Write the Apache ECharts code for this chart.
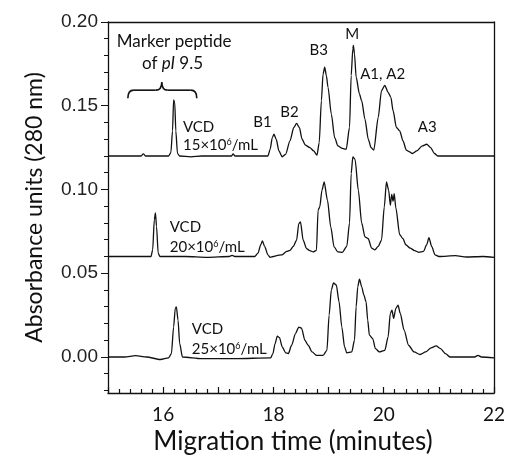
<!DOCTYPE html>
<html>
<head>
<meta charset="utf-8">
<script src="https://cdn.jsdelivr.net/npm/echarts@6/dist/echarts.min.js"></script>
<style>html,body{margin:0;padding:0;background:#fff}#c{width:511px;height:461px}</style>
</head>
<body>
<div id="c"></div>
<script>
// Migration time (min) and absorbance (AU) for each trace
const timeTop = [15.00,15.60,15.64,15.68,16.10,16.14,16.17,16.19,16.21,16.23,16.26,16.30,16.50,16.70,17.24,17.27,17.30,17.90,17.94,17.98,18.01,18.05,18.10,18.16,18.22,18.30,18.37,18.42,18.47,18.52,18.58,18.66,18.73,18.79,18.83,18.87,18.90,18.93,18.96,18.99,19.05,19.11,19.17,19.25,19.32,19.38,19.41,19.44,19.45,19.47,19.50,19.56,19.60,19.66,19.72,19.77,19.82,19.90,19.96,20.02,20.08,20.13,20.17,20.23,20.29,20.35,20.41,20.47,20.52,20.60,20.70,20.78,20.85,20.92,20.98,21.50,22.00];
const absTop  = [0.120,0.120,0.1213,0.120,0.120,0.122,0.135,0.1535,0.152,0.135,0.1215,0.120,0.1195,0.120,0.120,0.1213,0.120,0.120,0.124,0.131,0.133,0.130,0.123,0.1195,0.121,0.129,0.137,0.1395,0.137,0.130,0.1265,0.125,0.123,0.1205,0.128,0.153,0.169,0.173,0.168,0.161,0.145,0.131,0.126,0.1245,0.124,0.137,0.168,0.184,0.186,0.181,0.167,0.157,0.153,0.142,0.130,0.125,0.1235,0.143,0.159,0.1622,0.158,0.155,0.147,0.137,0.135,0.129,0.1235,0.1225,0.1215,0.123,0.126,0.127,0.125,0.1215,0.120,0.120,0.120];

const timeMid = [15.00,15.78,15.81,15.84,15.86,15.88,15.91,15.94,16.40,16.80,17.20,17.25,17.30,17.66,17.72,17.77,17.80,17.84,17.90,17.94,18.00,18.06,18.15,18.24,18.30,18.36,18.42,18.46,18.49,18.54,18.60,18.66,18.72,18.78,18.81,18.84,18.88,18.92,18.98,19.04,19.10,19.17,19.25,19.33,19.38,19.41,19.44,19.48,19.54,19.60,19.66,19.72,19.78,19.84,19.90,19.96,20.01,20.05,20.09,20.12,20.145,20.17,20.19,20.22,20.29,20.35,20.40,20.48,20.56,20.64,20.72,20.78,20.82,20.87,20.93,21.00,21.30,21.50,21.80,22.00];
const absMid  = [0.060,0.060,0.064,0.082,0.086,0.078,0.062,0.060,0.060,0.0595,0.060,0.0607,0.060,0.060,0.062,0.067,0.0693,0.066,0.061,0.0595,0.060,0.0605,0.061,0.063,0.0637,0.066,0.0697,0.0796,0.0806,0.0697,0.0647,0.0635,0.0627,0.0637,0.0876,0.0896,0.0995,0.1045,0.0936,0.0776,0.0657,0.0627,0.0625,0.066,0.080,0.1095,0.1194,0.118,0.0995,0.080,0.0717,0.0706,0.065,0.064,0.066,0.0697,0.0896,0.1045,0.0995,0.0906,0.097,0.093,0.0975,0.089,0.073,0.0706,0.067,0.065,0.0635,0.0625,0.063,0.067,0.0713,0.066,0.061,0.060,0.0605,0.0597,0.060,0.0595];

const timeBot = [15.00,15.30,15.50,15.70,15.95,16.10,16.15,16.19,16.22,16.24,16.27,16.30,16.35,16.70,17.30,17.95,17.99,18.03,18.07,18.11,18.16,18.22,18.27,18.33,18.40,18.46,18.51,18.57,18.63,18.70,18.78,18.90,18.97,19.01,19.05,19.09,19.14,19.19,19.24,19.29,19.33,19.42,19.47,19.50,19.53,19.56,19.60,19.64,19.68,19.71,19.74,19.80,19.85,19.92,20.02,20.08,20.12,20.15,20.18,20.22,20.26,20.30,20.37,20.45,20.55,20.66,20.76,20.86,20.95,21.03,21.12,21.20,21.65,21.71,21.77,22.00];
const absBot  = [0.000,0.000,0.0008,0.000,-0.0015,-0.0005,0.002,0.018,0.029,0.0299,0.022,0.008,0.000,-0.001,-0.001,-0.0005,0.002,0.008,0.0125,0.0115,0.006,0.0025,0.002,0.007,0.014,0.0178,0.0172,0.010,0.007,0.003,0.001,0.001,0.004,0.025,0.040,0.0442,0.043,0.033,0.018,0.006,0.0025,0.003,0.010,0.030,0.042,0.0464,0.042,0.037,0.033,0.022,0.013,0.011,0.005,0.003,0.004,0.012,0.026,0.0279,0.023,0.029,0.0309,0.026,0.016,0.007,0.003,0.0015,0.003,0.0055,0.0066,0.005,0.002,0.000,0.000,0.001,0.000,-0.0005];

const xTickLabels = ['16','18','20','22'];
const yTickLabels = [0, 0.05, 0.10, 0.15, 0.20];
const yMinorTicks = [-0.02,-0.01,0.01,0.02,0.03,0.04,0.06,0.07,0.08,0.09,0.11,0.12,0.13,0.14,0.16,0.17,0.18,0.19];

// annotation texts with anchor positions in data units
const annoTexts = ['Marker peptide','of {i|pI} 9.5','VCD','15×10{s|6}/mL','B1','B2','B3','M','A1, A2','A3','VCD','20×10{s|6}/mL','VCD','25×10{s|6}/mL'];
const annoX = [16.20,16.17,16.36,16.36,17.80,18.29,18.82,19.43,19.98,20.79,16.12,16.12,16.52,16.52];
const annoY = [0.1885,0.1753,0.137,0.1264,0.140,0.146,0.183,0.1927,0.1688,0.137,0.0775,0.0655,0.0166,0.0046];
const annoAlign = ['center','center','left','left','center','center','center','center','center','center','left','left','left','left'];
// brace above the marker-peptide region: [left, tip, right] x and [end, bar, tip] y
const braceX = [15.36, 15.975, 16.61];
const braceY = [0.1545, 0.1593, 0.1640];

const zip = (a, b) => a.map((v, i) => [v, b[i]]);
const font = 'Lato, "Open Sans", sans-serif';

const chart = echarts.init(document.getElementById('c'));
const lineSeries = (d) => ({
  type: 'line', data: d, showSymbol: false, smooth: 0.25, smoothMonotone: 'x',
  lineStyle: { color: '#111', width: 1.3 }, silent: true, animation: false
});

chart.setOption({
  animation: false,
  grid: { left: 108, right: 17, top: 22, bottom: 68 },
  xAxis: [{
    type: 'value', min: 15, max: 22, interval: 1,
    name: 'Migration time (minutes)', nameLocation: 'middle', nameGap: 28,
    nameTextStyle: { fontFamily: font, fontSize: 26, color: '#111', padding: [0, 16, 0, 0] },
    axisLine: { onZero: false, lineStyle: { color: '#111', width: 1.3 } },
    axisTick: { inside: true, length: 6, lineStyle: { color: '#111', width: 1.2 } },
    minorTick: { show: true, splitNumber: 5, length: 4, lineStyle: { color: '#111', width: 1.2 } },
    axisLabel: { margin: 12, fontFamily: font, fontSize: 19, color: '#111',
      formatter: v => xTickLabels.includes(String(v)) ? String(v) : '' },
    splitLine: { show: false }
  }, {
    type: 'value', min: 15, max: 22, position: 'top',
    axisLine: { onZero: false, lineStyle: { color: '#111', width: 1.3 } },
    axisTick: { show: false }, axisLabel: { show: false }, splitLine: { show: false }
  }],
  yAxis: [{
    type: 'value', min: -0.0215, max: 0.2,
    name: 'Absorbance units (280 nm)', nameLocation: 'middle', nameGap: 62,
    nameTextStyle: { fontFamily: font, fontSize: 23, color: '#111' },
    axisLine: { onZero: false, lineStyle: { color: '#111', width: 1.3 } },
    axisTick: { length: 7, lineStyle: { color: '#111' }, customValues: yTickLabels },
    axisLabel: { margin: 10, fontFamily: '"Liberation Sans", Arial, sans-serif', fontSize: 19, color: '#222',
      customValues: yTickLabels, formatter: v => v.toFixed(2) },
    splitLine: { show: false }
  }, {
    type: 'value', min: -0.0215, max: 0.2, position: 'left',
    axisLine: { show: false, onZero: false },
    axisTick: { length: 4, lineStyle: { color: '#111' }, customValues: yMinorTicks },
    axisLabel: { show: false }, splitLine: { show: false }
  }, {
    type: 'value', min: -0.0215, max: 0.2, position: 'right',
    axisLine: { onZero: false, lineStyle: { color: '#111', width: 1.3 } },
    axisTick: { show: false }, axisLabel: { show: false }, splitLine: { show: false }
  }],
  series: [lineSeries(zip(timeTop, absTop)), lineSeries(zip(timeMid, absMid)), lineSeries(zip(timeBot, absBot))]
});

const px = (x, y) => chart.convertToPixel({ xAxisIndex: 0, yAxisIndex: 0 }, [x, y]);
const graphics = annoTexts.map((t, i) => {
  const p = px(annoX[i], annoY[i]);
  const fs = i < 2 ? 17 : 15;
  return {
    type: 'text', x: p[0], y: p[1], silent: true,
    style: {
      text: t, fontFamily: font, fontSize: fs, fill: '#111',
      align: annoAlign[i], verticalAlign: 'middle',
      rich: {
        i: { fontFamily: font, fontStyle: 'italic', fontSize: fs, fill: '#111' },
        s: { fontFamily: font, fontSize: 9, fill: '#111', verticalAlign: 'top', padding: [0, 0, 6, 0] }
      }
    }
  };
});
const L = px(braceX[0], braceY[0]), T = px(braceX[1], braceY[2]), R = px(braceX[2], braceY[0]);
const bar = px(braceX[1], braceY[1])[1];
const bs = { stroke: '#111', lineWidth: 1.6, fill: 'none' };
const r = 6;
graphics.push(
  { type: 'bezierCurve', silent: true, shape: { x1: L[0], y1: L[1], cpx1: L[0], cpy1: bar, x2: L[0] + r, y2: bar }, style: bs },
  { type: 'line', silent: true, shape: { x1: L[0] + r, y1: bar, x2: T[0] - r, y2: bar }, style: bs },
  { type: 'bezierCurve', silent: true, shape: { x1: T[0] - r, y1: bar, cpx1: T[0], cpy1: bar, x2: T[0], y2: T[1] }, style: bs },
  { type: 'bezierCurve', silent: true, shape: { x1: T[0], y1: T[1], cpx1: T[0], cpy1: bar, x2: T[0] + r, y2: bar }, style: bs },
  { type: 'line', silent: true, shape: { x1: T[0] + r, y1: bar, x2: R[0] - r, y2: bar }, style: bs },
  { type: 'bezierCurve', silent: true, shape: { x1: R[0] - r, y1: bar, cpx1: R[0], cpy1: bar, x2: R[0], y2: R[1] }, style: bs }
);
chart.setOption({ graphic: graphics });
</script>
</body>
</html>
